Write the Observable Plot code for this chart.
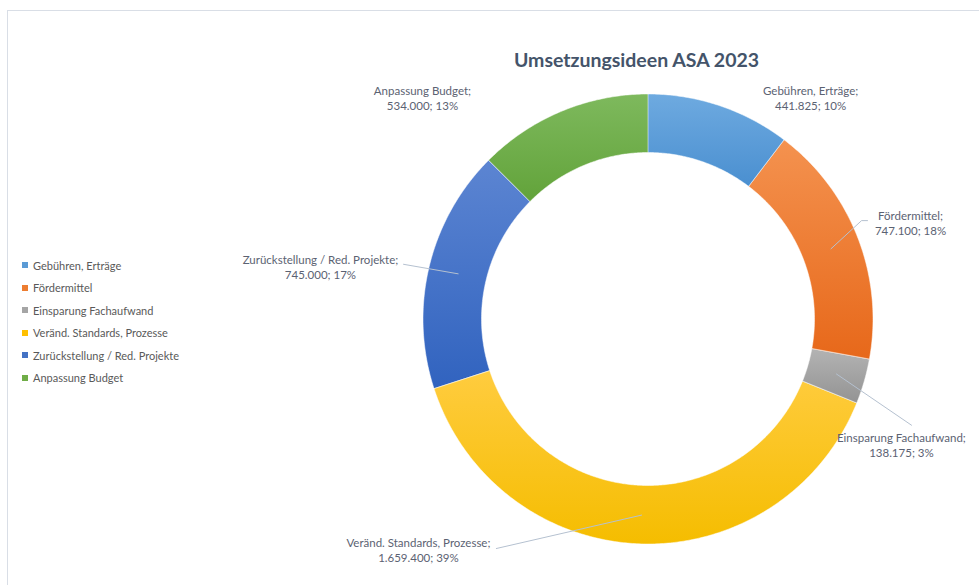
<!DOCTYPE html>
<html><head><meta charset="utf-8">
<script src="https://cdn.jsdelivr.net/npm/d3@7"></script>
<script src="https://cdn.jsdelivr.net/npm/@observablehq/plot@0.6"></script>
<style>
html,body{margin:0;padding:0;background:#fff;}
#wrap{position:relative;width:979px;height:585px;overflow:hidden;font-family:Lato,sans-serif;}
#border{position:absolute;left:7px;top:10px;width:1200px;height:1000px;border-left:1px solid #d9dee6;border-top:1px solid #d9dee6;}
#chart{position:absolute;left:0;top:0;}
#legend{position:absolute;left:22px;top:254px;font-size:11px;color:#595959;}
.item{display:flex;align-items:center;height:22.5px;white-space:nowrap;}
.sw{width:6px;height:6px;margin-right:5px;flex:none;}
</style></head><body>
<div id="wrap"><div id="border"></div><div id="chart"></div><div id="legend"></div></div>
<script>
// ---- data ----
const title = "Umsetzungsideen ASA 2023";
const categories = ["Gebühren, Erträge", "Fördermittel", "Einsparung Fachaufwand", "Veränd. Standards, Prozesse", "Zurückstellung / Red. Projekte", "Anpassung Budget"];
const values = [441825, 747100, 138175, 1659400, 745000, 534000];
// ---- styles ----
const baseColors = ["#5B9BD5", "#ED7D31", "#A5A5A5", "#FFC000", "#4472C4", "#70AD47"];
const topColors = ["#6eaae0", "#f4924f", "#b3b3b3", "#ffcc3f", "#5c85d2", "#7eb95d"];
const bottomColors = ["#4a8fd0", "#e7681a", "#939393", "#f5bd00", "#3163bf", "#62a33a"];
// ---- layout (polar: angle in degrees clockwise from top, radius in outer-radius units) ----
const innerRatio = 0.74;
const labelPos = [[36.2, 1.22], [69.8, 1.241], [116.4, 1.255], [225, 1.446], [279.2, 1.477], [314.4, 1.406]];
const leaderPath = [null, [[65.1, 1.044], [65.7, 1.068]], [[111.9, 1.26]], [[213.6, 1.222]], [[282.7, 1.116]], null];

const de = d3.formatLocale({decimal: ",", thousands: ".", grouping: [3], currency: ["", "€"]});
const fmt = de.format(",d");
const total = d3.sum(values);
const pie = d3.pie().sort(null).value(d => d)(values);

const rad = deg => deg * Math.PI / 180;
const px = (a, r) => r * Math.sin(a);
const py = (a, r) => r * Math.cos(a);

// ring segments
const ringRows = [];
pie.forEach((p, i) => {
  const n = Math.max(8, Math.ceil((p.endAngle - p.startAngle) / 0.01));
  for (let k = 0; k <= n; k++) {
    const t = p.startAngle + (p.endAngle - p.startAngle) * k / n;
    ringRows.push({cat: categories[i], x1: px(t, 1), y1: py(t, 1), x2: px(t, innerRatio), y2: py(t, innerRatio)});
  }
});

// labels
const labelRows = categories.map((c, i) => ({
  text: `${c};\n${fmt(values[i])}; ${Math.round(values[i] / total * 100)}%`,
  x: px(rad(labelPos[i][0]), labelPos[i][1]),
  y: py(rad(labelPos[i][0]), labelPos[i][1])
}));

// leader lines
const leaderRows = [];
pie.forEach((p, i) => {
  if (!leaderPath[i]) return;
  const mid = (p.startAngle + p.endAngle) / 2;
  const midR = (1 + innerRatio) / 2;
  leaderRows.push({cat: categories[i], x: px(mid, midR), y: py(mid, midR)});
  leaderPath[i].forEach(([a, r]) => leaderRows.push({cat: categories[i], x: px(rad(a), r), y: py(rad(a), r)}));
});

const gradIds = categories.map((c, i) => `grad${i}`);

const plot = Plot.plot({
  width: 979, height: 585,
  marginLeft: 423, marginRight: 106, marginTop: 94, marginBottom: 41,
  x: {domain: [-1, 1], axis: null},
  y: {domain: [-1, 1], axis: null},
  color: {type: "ordinal", domain: categories, range: gradIds.map(id => `url(#${id})`)},
  style: {fontFamily: "Lato, sans-serif", background: "transparent", overflow: "visible"},
  marks: [
    Plot.area(ringRows, {x1: "x1", y1: "y1", x2: "x2", y2: "y2", z: "cat", fill: "cat", stroke: "white", strokeWidth: 0.5, curve: "linear"}),
    Plot.line(leaderRows, {x: "x", y: "y", z: "cat", stroke: "#b5c1d0", strokeWidth: 1}),
    Plot.text(labelRows, {x: "x", y: "y", text: "text", textAnchor: "middle", lineAnchor: "middle", lineHeight: 1.3, fontSize: 11.5, fill: "#5b6272"}),
    Plot.text([title], {frameAnchor: "top", dx: -12, dy: -41, fontSize: 19.5, fontWeight: "bold", fill: "#44546A"})
  ]
});

const defs = d3.select(plot).insert("defs", ":first-child");
gradIds.forEach((id, i) => {
  const g = defs.append("linearGradient").attr("id", id).attr("x1", 0).attr("y1", 0).attr("x2", 0).attr("y2", 1);
  g.append("stop").attr("offset", "0%").attr("stop-color", topColors[i]);
  g.append("stop").attr("offset", "100%").attr("stop-color", bottomColors[i]);
});

document.getElementById("chart").appendChild(plot);

const legend = d3.select("#legend");
categories.forEach((c, i) => {
  const it = legend.append("div").attr("class", "item");
  it.append("div").attr("class", "sw").style("background", baseColors[i]);
  it.append("span").text(c);
});
</script>
</body></html>
